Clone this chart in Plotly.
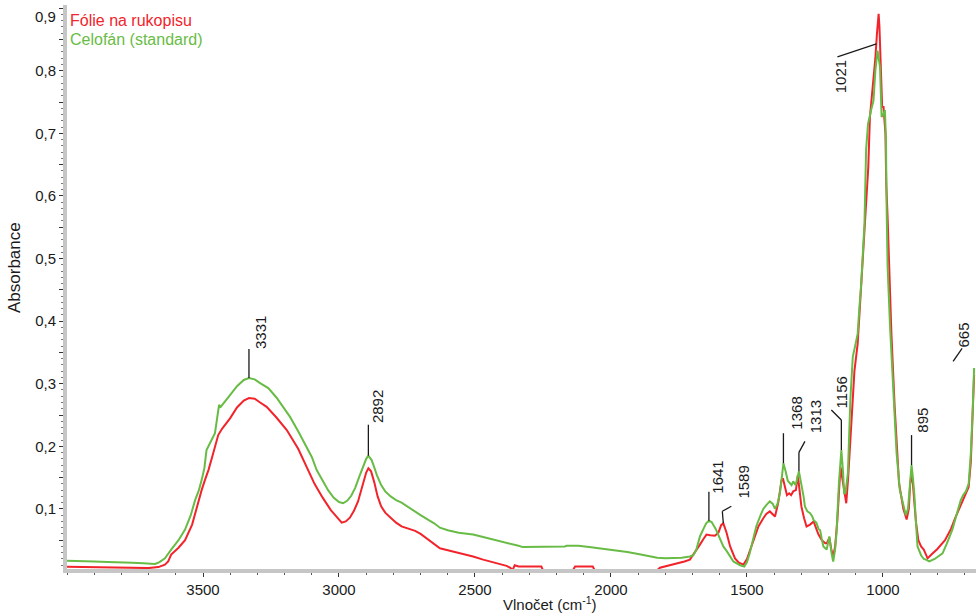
import plotly.graph_objects as go

# ---- spectra (wavenumber cm-1, absorbance) ----
green_wn = [4000, 3950, 3900, 3850, 3800, 3760, 3720, 3690, 3676, 3660, 3640, 3617, 3590, 3566, 3545,
            3529, 3515, 3505, 3495, 3487, 3470, 3456, 3448, 3441, 3435, 3425, 3400, 3375, 3350, 3331,
            3310, 3290, 3260, 3230, 3200, 3180, 3150, 3119, 3100, 3082, 3060, 3040, 3020, 3000, 2985,
            2970, 2955, 2940, 2925, 2910, 2900, 2892, 2880, 2870, 2860, 2845, 2830, 2810, 2790, 2770,
            2750, 2720, 2700, 2670, 2650, 2629, 2600, 2560, 2507, 2470, 2420, 2380, 2340, 2324, 2280,
            2200, 2170, 2163, 2120, 2080, 2040, 2016, 1980, 1940, 1900, 1869, 1830, 1800, 1772, 1740,
            1710, 1697, 1686, 1673, 1660, 1650, 1640, 1630, 1615, 1600, 1587, 1575, 1560, 1550, 1538,
            1525, 1510, 1500, 1490, 1478, 1466, 1450, 1440, 1429, 1416, 1405, 1397, 1388, 1379, 1372,
            1366, 1358, 1350, 1342, 1336, 1330, 1321, 1309, 1300, 1292, 1287, 1278, 1268, 1260, 1255,
            1245, 1237, 1231, 1225, 1219, 1207, 1197, 1189, 1183, 1176, 1171, 1162, 1153, 1147, 1143,
            1138, 1129, 1120, 1111, 1100, 1093, 1087, 1080, 1068, 1066, 1062, 1055, 1050, 1042, 1035,
            1028, 1020, 1016, 1011, 1005, 999, 993, 989, 987, 983, 974, 962, 950, 938, 925,
            916, 908, 900, 895, 890, 885, 879, 873, 860, 850, 842, 830, 810, 790, 781,
            765, 745, 730, 714, 705, 695, 685, 677, 670, 665]
green_abs = [0.017, 0.017, 0.016, 0.015, 0.015, 0.014, 0.013, 0.012, 0.012, 0.015, 0.021, 0.035, 0.050, 0.067, 0.090,
             0.114, 0.130, 0.146, 0.165, 0.194, 0.208, 0.221, 0.245, 0.266, 0.263, 0.268, 0.282, 0.296, 0.306, 0.309,
             0.307, 0.301, 0.293, 0.278, 0.260, 0.247, 0.224, 0.199, 0.183, 0.162, 0.145, 0.130, 0.118, 0.111, 0.109,
             0.113, 0.121, 0.134, 0.152, 0.170, 0.180, 0.185, 0.178, 0.166, 0.153, 0.138, 0.128, 0.120, 0.114, 0.110,
             0.104, 0.096, 0.090, 0.082, 0.077, 0.070, 0.066, 0.062, 0.059, 0.055, 0.050, 0.046, 0.041, 0.039, 0.039,
             0.039, 0.040, 0.041, 0.041, 0.039, 0.037, 0.036, 0.034, 0.031, 0.028, 0.025, 0.022, 0.021, 0.021, 0.022,
             0.024, 0.026, 0.035, 0.056, 0.068, 0.077, 0.081, 0.079, 0.068, 0.052, 0.040, 0.033, 0.024, 0.016, 0.013,
             0.010, 0.008, 0.015, 0.029, 0.050, 0.072, 0.090, 0.100, 0.106, 0.112, 0.108, 0.100, 0.108, 0.125, 0.150,
             0.173, 0.160, 0.145, 0.141, 0.138, 0.144, 0.138, 0.160, 0.140, 0.120, 0.104, 0.096, 0.093, 0.088, 0.082,
             0.078, 0.068, 0.066, 0.052, 0.040, 0.035, 0.056, 0.029, 0.016, 0.035, 0.061, 0.141, 0.194, 0.160, 0.125,
             0.125, 0.157, 0.274, 0.343, 0.365, 0.380, 0.420, 0.460, 0.556, 0.593, 0.674, 0.715, 0.726, 0.740, 0.752,
             0.800, 0.832, 0.820, 0.806, 0.726, 0.730, 0.737, 0.690, 0.593, 0.487, 0.391, 0.285, 0.189, 0.130, 0.105,
             0.090, 0.100, 0.150, 0.170, 0.150, 0.125, 0.080, 0.040, 0.026, 0.020, 0.019, 0.016, 0.020, 0.026, 0.029,
             0.045, 0.067, 0.090, 0.114, 0.122, 0.128, 0.140, 0.189, 0.260, 0.325]

red_wn = [4000, 3900, 3800, 3750, 3700, 3664, 3640, 3628, 3617, 3590, 3566, 3540, 3517, 3505, 3493,
          3480, 3465, 3455, 3444, 3430, 3400, 3375, 3350, 3331, 3310, 3290, 3266, 3230, 3192, 3150,
          3114, 3090, 3060, 3030, 3010, 2990, 2975, 2960, 2945, 2930, 2915, 2900, 2892, 2882, 2870,
          2858, 2845, 2830, 2810, 2790, 2770, 2740, 2720, 2700, 2670, 2650, 2629, 2600, 2560, 2507,
          2470, 2430, 2400, 2384, 2370, 2362, 2354, 2340, 2300, 2256, 2250, 2140, 2132, 2100, 2067,
          2060, 1830, 1820, 1790, 1760, 1730, 1710, 1697, 1686, 1673, 1660, 1649, 1635, 1618, 1605,
          1595, 1587, 1575, 1562, 1544, 1530, 1513, 1500, 1482, 1470, 1458, 1440, 1429, 1416, 1405,
          1397, 1385, 1373, 1368, 1360, 1353, 1345, 1338, 1330, 1320, 1313, 1305, 1300, 1290, 1281,
          1268, 1255, 1245, 1237, 1225, 1212, 1207, 1197, 1190, 1183, 1176, 1168, 1160, 1156, 1150,
          1140, 1135, 1128, 1120, 1114, 1105, 1093, 1085, 1074, 1060, 1054, 1048, 1035, 1028, 1022,
          1016, 1013, 1008, 1003, 998, 991, 988, 983, 969, 957, 941, 925, 913, 905, 900,
          895, 890, 885, 879, 870, 860, 850, 836, 820, 800, 772, 750, 735, 722, 710,
          695, 685, 677, 670, 665]
red_abs = [0.0075, 0.007, 0.0065, 0.006, 0.0055, 0.007, 0.011, 0.016, 0.027, 0.038, 0.050, 0.075, 0.114, 0.130, 0.146,
           0.162, 0.185, 0.200, 0.218, 0.228, 0.245, 0.262, 0.273, 0.277, 0.276, 0.270, 0.263, 0.246, 0.226, 0.196,
           0.162, 0.140, 0.118, 0.098, 0.088, 0.078, 0.080, 0.086, 0.097, 0.112, 0.135, 0.158, 0.165, 0.160, 0.142,
           0.120, 0.104, 0.094, 0.086, 0.078, 0.072, 0.068, 0.065, 0.060, 0.050, 0.043, 0.037, 0.034, 0.030, 0.024,
           0.019, 0.014, 0.011, 0.009, 0.006, 0.002, 0.010, 0.008, 0.008, 0.008, 0.002, 0.002, 0.008, 0.008, 0.008,
           0.002, 0.002, 0.006, 0.009, 0.013, 0.016, 0.019, 0.027, 0.035, 0.043, 0.052, 0.059, 0.058, 0.057, 0.062,
           0.074, 0.077, 0.062, 0.040, 0.021, 0.014, 0.011, 0.020, 0.043, 0.060, 0.072, 0.085, 0.092, 0.096, 0.092,
           0.088, 0.110, 0.146, 0.149, 0.135, 0.122, 0.125, 0.122, 0.128, 0.130, 0.154, 0.125, 0.104, 0.085, 0.072,
           0.075, 0.080, 0.068, 0.059, 0.050, 0.045, 0.045, 0.054, 0.035, 0.024, 0.040, 0.080, 0.140, 0.167, 0.150,
           0.118, 0.109, 0.150, 0.210, 0.263, 0.320, 0.364, 0.420, 0.487, 0.593, 0.646, 0.726, 0.780, 0.820, 0.860,
           0.891, 0.870, 0.800, 0.742, 0.742, 0.700, 0.620, 0.566, 0.380, 0.263, 0.141, 0.100, 0.083, 0.100, 0.140,
           0.157, 0.140, 0.115, 0.080, 0.050, 0.040, 0.035, 0.021, 0.028, 0.036, 0.050, 0.068, 0.085, 0.098, 0.112,
           0.125, 0.135, 0.175, 0.250, 0.314]

series_names = ["Fólie na rukopisu", "Celofán (standard)"]
red_color = "#f2242b"
green_color = "#68bc45"

# peak labels: text, anchor wavenumber, anchor absorbance
peak_text = ["3331", "2892", "1641", "1589", "1368", "1313", "1156", "1021", "895", "665"]
peak_wn = [3331, 2892, 1640, 1587, 1366, 1309, 1153, 1024, 895, 665]
peak_abs = [0.309, 0.185, 0.081, 0.077, 0.173, 0.160, 0.194, 0.843, 0.170, 0.318]

# leader path (pixel offsets from anchor) and text centre offset
leader_px = [
    [(0, 0), (0, -29)],
    [(0, 0), (0, -31)],
    [(0, 0), (0, -29)],
    [(0, 0), (-1, -12), (8, -17)],
    [(0, 0), (0, -30)],
    [(0, 0), (0, -19), (6, -30)],
    [(0, 0), (0, -30), (-10, -40)],
    [(0, 0), (-39, 13)],
    [(0, 0), (0, -30)],
    [(-21, -11), (-12, -24)],
]
text_px = [(11, -46), (9, -49), (9, -44), (20, -41), (13, -50), (16, -55), (0, -58), (-36, 33), (11, -45), (-11, -37)]

# axis geometry
X_RANGE = [4000, 658]
Y_RANGE = [0.004, 0.905]
W, H = 976, 616
ML, MR, MT, MB = 67, 0, 5, 47
PW, PH = W - ML - MR, H - MT - MB
wn_per_px = (X_RANGE[0] - X_RANGE[1]) / PW
abs_per_px = (Y_RANGE[1] - Y_RANGE[0]) / PH

FONT = "Liberation Sans, Arial, sans-serif"

fig = go.Figure()
fig.add_trace(go.Scatter(x=red_wn, y=red_abs, mode="lines", name=series_names[0],
                         line=dict(color=red_color, width=2)))
fig.add_trace(go.Scatter(x=green_wn, y=green_abs, mode="lines", name=series_names[1],
                         line=dict(color=green_color, width=2)))

shapes = []
annotations = []
for txt, wn, ab, path, (tx, ty) in zip(peak_text, peak_wn, peak_abs, leader_px, text_px):
    pts = [(wn - dx * wn_per_px, ab - dy * abs_per_px) for dx, dy in path]
    for (x0, y0), (x1, y1) in zip(pts[:-1], pts[1:]):
        shapes.append(dict(type="line", xref="x", yref="y", x0=x0, y0=y0, x1=x1, y1=y1,
                           line=dict(color="#1a1a1a", width=1.3)))
    annotations.append(dict(x=wn, y=ab, xref="x", yref="y", text=txt, showarrow=False,
                            textangle=-90, xshift=tx, yshift=-ty,
                            font=dict(family=FONT, size=15, color="#1a1a1a")))

# series captions in the top-left corner
annotations.append(dict(xref="paper", yref="paper", x=(68 - ML) / PW, y=(H - MB - 20.5) / PH,
                        xanchor="left", yanchor="middle", showarrow=False, text=series_names[0],
                        font=dict(family=FONT, size=16, color=red_color)))
annotations.append(dict(xref="paper", yref="paper", x=(68 - ML) / PW, y=(H - MB - 39.5) / PH,
                        xanchor="left", yanchor="middle", showarrow=False, text=series_names[1],
                        font=dict(family=FONT, size=16, color=green_color)))

# axis titles
annotations.append(dict(xref="paper", yref="paper", x=(550 - ML) / PW, y=(H - MB - 603) / PH,
                        xanchor="center", yanchor="middle", showarrow=False,
                        text="Vlnočet (cm<sup>-1</sup>)",
                        font=dict(family=FONT, size=15, color="#1a1a1a")))
annotations.append(dict(xref="paper", yref="paper", x=(14 - ML) / PW, y=(H - MB - 268) / PH,
                        xanchor="center", yanchor="middle", showarrow=False, textangle=-90,
                        text="Absorbance", font=dict(family=FONT, size=17, color="#1a1a1a")))
# top y label sits slightly lower than its tick
annotations.append(dict(xref="paper", yref="y", x=0, y=0.9, xanchor="right", yanchor="middle",
                        xshift=-9, yshift=-8, showarrow=False, text="0,9",
                        font=dict(family=FONT, size=15, color="#1a1a1a")))

y_ticks = [round(0.05 * i, 2) for i in range(1, 19)]
y_text = [("%.1f" % v).replace(".", ",") if abs(v * 10 - round(v * 10)) < 1e-6 and v < 0.89 else " "
          for v in y_ticks]

fig.update_layout(
    width=W, height=H,
    margin=dict(l=ML, r=MR, t=MT, b=MB),
    paper_bgcolor="white", plot_bgcolor="white",
    showlegend=False,
    shapes=shapes, annotations=annotations,
    font=dict(family=FONT, size=15, color="#1a1a1a"),
    xaxis=dict(range=X_RANGE, showgrid=False, zeroline=False,
               showline=True, linecolor="#c6c6c6", linewidth=4,
               ticks="outside", ticklen=4, tickwidth=1, tickcolor="#333333",
               tickvals=[3500, 3000, 2500, 2000, 1500, 1000],
               minor=dict(dtick=100, tick0=0, ticks="outside", ticklen=2, tickcolor="#555555"),
               tickfont=dict(family=FONT, size=15, color="#1a1a1a")),
    yaxis=dict(range=Y_RANGE, showgrid=False, zeroline=False,
               showline=True, linecolor="#c6c6c6", linewidth=4,
               ticks="outside", ticklen=4, tickwidth=1, tickcolor="#333333",
               tickvals=y_ticks, ticktext=y_text,
               minor=dict(dtick=0.01, tick0=0, ticks="outside", ticklen=2, tickcolor="#777777"),
               tickfont=dict(family=FONT, size=15, color="#1a1a1a")),
)

fig.write_html("out.html")
